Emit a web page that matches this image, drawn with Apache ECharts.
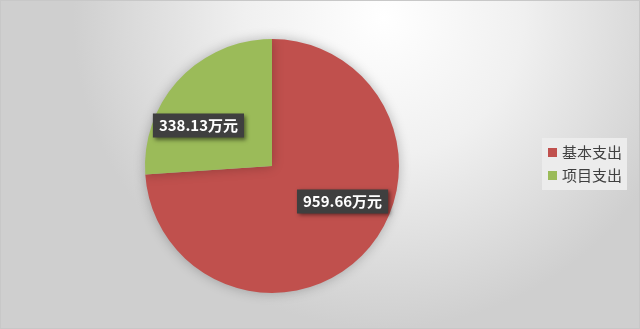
<!DOCTYPE html>
<html><head><meta charset="utf-8">
<script src="https://cdn.jsdelivr.net/npm/echarts@6/dist/echarts.min.js"></script>
<style>html,body{margin:0;padding:0;}#c{width:640px;height:329px;box-sizing:border-box;border:1px solid #c8c8c8;}</style>
</head><body><div id="c"></div>
<script>
const categories = ['基本支出', '项目支出'];
const values = [959.66, 338.13];
const unit = '万元';
const colors = ['#C0504D', '#9BBB59'];
const labelOffsets = [[22, -10], [-25, 5]];

const chart = echarts.init(document.getElementById('c'));
chart.setOption({
  backgroundColor: {
    type: 'radial', x: 0.6, y: 0.05, r: 0.95,
    colorStops: [{offset: 0, color: '#ffffff'}, {offset: 0.45, color: '#f0f0f0'}, {offset: 1, color: '#cfcfcf'}]
  },
  legend: {
    orient: 'vertical', left: 541, top: 137,
    icon: 'rect', itemWidth: 9, itemHeight: 9, itemGap: 8,
    backgroundColor: '#ececec', padding: [7, 5, 7, 6],
    textStyle: {fontSize: 15, color: '#404040', fontFamily: 'Noto Sans CJK SC'},
    data: categories
  },
  series: [{
    type: 'pie',
    center: [271, 165], radius: [0, 127],
    startAngle: 90, clockwise: true,
    silent: true, animation: false,
    itemStyle: {shadowBlur: 12, shadowColor: 'rgba(0,0,0,0.25)'},
    labelLine: {show: false},
    data: categories.map((n, i) => ({
      name: n, value: values[i],
      itemStyle: {color: colors[i]},
      label: {
        show: true, position: 'inside', offset: labelOffsets[i],
        formatter: values[i].toFixed(2) + unit,
        backgroundColor: '#3f3f3f', color: '#ffffff', fontWeight: 'bold',
        fontSize: 15, fontFamily: 'Noto Sans CJK SC', padding: [5, 6, 4, 6],
        shadowBlur: 4, shadowColor: 'rgba(0,0,0,0.5)', shadowOffsetX: 2, shadowOffsetY: 2
      }
    }))
  }]
});
</script></body></html>
